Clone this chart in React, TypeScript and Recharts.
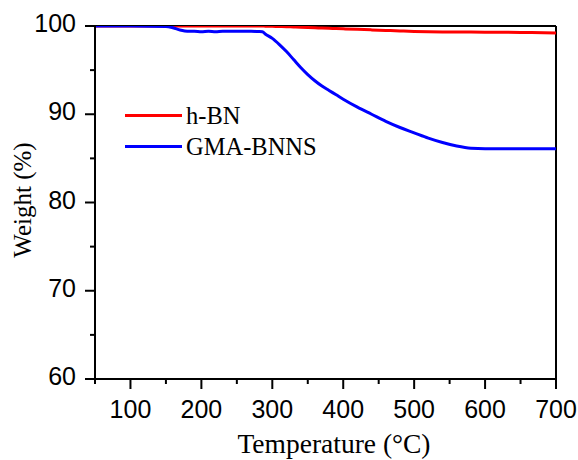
import React from 'react';
import { LineChart, Line, XAxis, YAxis, ReferenceLine, Legend } from 'recharts';

const temperatures = [50, 100, 150, 160, 170, 180, 190, 200, 210, 220, 230, 240, 250, 260, 270, 280, 286, 290, 300, 310, 320, 330, 340, 350, 360, 370, 380, 390, 400, 420, 440, 460, 480, 500, 520, 540, 560, 580, 600, 650, 700];

const hBN = [100, 100, 100, 100, 100, 100, 100, 100, 100, 100, 100, 100, 100, 100, 100, 100, 100, 99.98, 99.96, 99.94, 99.92, 99.89, 99.86, 99.83, 99.8, 99.77, 99.74, 99.71, 99.68, 99.62, 99.56, 99.5, 99.44, 99.39, 99.35, 99.33, 99.32, 99.31, 99.3, 99.27, 99.22];

const gmaBNNS = [100, 100, 99.95, 99.8, 99.55, 99.4, 99.4, 99.35, 99.4, 99.35, 99.4, 99.4, 99.4, 99.4, 99.4, 99.37, 99.35, 99.1, 98.6, 97.9, 97.1, 96.2, 95.3, 94.5, 93.8, 93.2, 92.7, 92.2, 91.7, 90.8, 90.0, 89.2, 88.5, 87.9, 87.3, 86.8, 86.4, 86.15, 86.1, 86.1, 86.1];

const seriesNames = ['h-BN', 'GMA-BNNS'];

const xTicks = [50, 100, 150, 200, 250, 300, 350, 400, 450, 500, 550, 600, 650, 700];
const yTicks = [60, 65, 70, 75, 80, 85, 90, 95, 100];

const data = temperatures.map((t, i) => ({ t, hBN: hBN[i], gma: gmaBNNS[i] }));

const SANS = '"Liberation Sans", Arial, sans-serif';
const SERIF = '"Liberation Serif", "Times New Roman", serif';

const XTick = (props: any) => {
  const { x, y, payload } = props;
  const major = payload.value % 100 === 0;
  return (
    <g>
      <line x1={x} y1={y} x2={x} y2={y + (major ? 10 : 5)} stroke="#000" strokeWidth={2} />
      {major && payload.value !== 50 && (
        <text x={x} y={y + 39} textAnchor="middle" fontFamily={SANS} fontSize={25} fill="#000">
          {payload.value}
        </text>
      )}
    </g>
  );
};

const YTick = (props: any) => {
  const { x, y, payload } = props;
  const major = payload.value % 10 === 0;
  return (
    <g>
      <line x1={x} y1={y} x2={x - (major ? 10 : 5)} y2={y} stroke="#000" strokeWidth={2} />
      {major && (
        <text x={x - 19} y={y + 6} textAnchor="end" fontFamily={SANS} fontSize={25} fill="#000">
          {payload.value}
        </text>
      )}
    </g>
  );
};

const renderLegend = (props: any) => {
  const items = [...(props.payload || [])].sort(
    (a: any, b: any) => seriesNames.indexOf(a.value) - seriesNames.indexOf(b.value)
  );
  return (
    <div style={{ display: 'flex', flexDirection: 'column' }}>
      {items.map((p: any) => (
        <div key={p.value} style={{ display: 'flex', alignItems: 'center', height: 31 }}>
          <div style={{ width: 57, height: 3, background: p.color }} />
          <span style={{ marginLeft: 4, fontFamily: SERIF, fontSize: 24.5, lineHeight: '31px', color: '#000', whiteSpace: 'nowrap' }}>
            {p.value}
          </span>
        </div>
      ))}
    </div>
  );
};

export default function App() {
  return (
    <div style={{ position: 'absolute', left: 0, top: 0, background: '#fff' }}>
      <LineChart width={578} height={460} data={data} margin={{ top: 26, right: 22, bottom: 0, left: 0 }}>
        <XAxis
          dataKey="t"
          type="number"
          domain={[50, 700]}
          ticks={xTicks}
          interval={0}
          tickSize={0}
          tickMargin={0}
          tickLine={false}
          tick={<XTick />}
          height={81}
          axisLine={{ stroke: '#000', strokeWidth: 2 }}
          allowDataOverflow
          label={{
            content: () => (
              <text x={334} y={453} textAnchor="middle" fontFamily={SERIF} fontSize={27.5} fill="#000">
                Temperature (°C)
              </text>
            ),
          }}
        />
        <YAxis
          type="number"
          domain={[60, 100]}
          ticks={yTicks}
          interval={0}
          tickSize={0}
          tickMargin={0}
          tickLine={false}
          tick={<YTick />}
          width={95}
          axisLine={{ stroke: '#000', strokeWidth: 2 }}
          allowDataOverflow
          label={{
            content: () => (
              <text x={31} y={200} transform="rotate(-90 31 200)" textAnchor="middle" fontFamily={SERIF} fontSize={25} fill="#000">
                Weight (%)
              </text>
            ),
          }}
        />
        <ReferenceLine y={100} stroke="#000" strokeWidth={2} />
        <ReferenceLine x={700} stroke="#000" strokeWidth={2} />
        <Line type="monotone" dataKey="hBN" name="h-BN" stroke="#ff0000" strokeWidth={3} dot={false} isAnimationActive={false} />
        <Line type="monotone" dataKey="gma" name="GMA-BNNS" stroke="#0000ff" strokeWidth={3} dot={false} isAnimationActive={false} />
        <Legend
          layout="horizontal"
          verticalAlign="middle"
          align="center"
          content={renderLegend}
          wrapperStyle={{ position: 'absolute', left: 125, top: 100, width: 'auto', height: 'auto' }}
        />
      </LineChart>
    </div>
  );
}
